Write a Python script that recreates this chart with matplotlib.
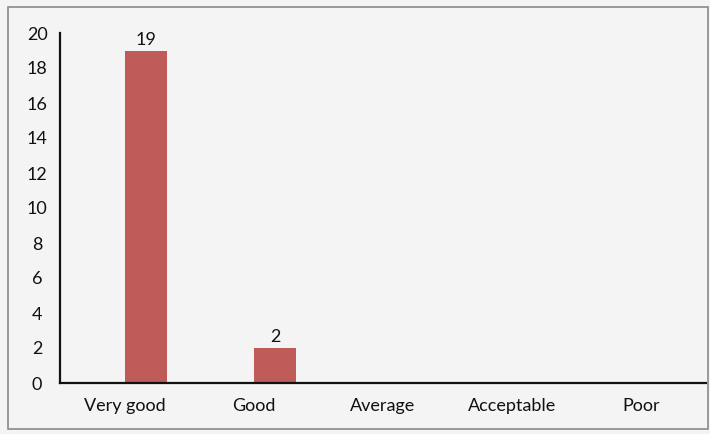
import matplotlib
matplotlib.use("Agg")
import matplotlib.pyplot as plt
from matplotlib.patches import Rectangle

categories = ["Very good", "Good", "Average", "Acceptable", "Poor"]
values = [19, 2, 0, 0, 0]
yticks = [0, 2, 4, 6, 8, 10, 12, 14, 16, 18, 20]

plt.rcParams['font.family'] = ['Lato', 'DejaVu Sans']

fig = plt.figure(figsize=(7.10, 4.34), dpi=100)
bg = "#f4f4f4"
fig.patch.set_facecolor(bg)

# outer chart frame
fig.patches.append(Rectangle((8/710, 1-429/434), 700/710, (429-7)/434,
                             transform=fig.transFigure, fill=False,
                             edgecolor="#8a8a8a", linewidth=1.2))

ax = fig.add_axes([60/710, 1-383/434, (706-60)/710, (383-33)/434])
ax.set_facecolor("none")

x = list(range(len(categories)))
bw = 0.33
bars = ax.bar(x, values, width=bw, align="edge", color="#bf5c5a", zorder=2)
for xi, v in zip(x, values):
    if v > 0:
        ax.text(xi + bw / 2, v + 0.15, str(v), ha="center", va="bottom",
                fontsize=13, color="#111111")

ax.set_xlim(-0.5, 4.5)
ax.set_ylim(0, 20)
ax.set_yticks(yticks)
ax.set_yticklabels([str(t) for t in yticks])
ax.set_xticks(x)
ax.set_xticklabels(categories)
ax.tick_params(axis="both", length=0, labelsize=13, colors="#111111")
ax.tick_params(axis="y", pad=16.5)
ax.tick_params(axis="x", pad=11)
for lab in ax.get_yticklabels():
    lab.set_horizontalalignment("center")
for s in ["top", "right"]:
    ax.spines[s].set_visible(False)
for s in ["left", "bottom"]:
    ax.spines[s].set_color("#111111")
    ax.spines[s].set_linewidth(1.6)

fig.savefig("out.png", dpi=100, facecolor=bg)
